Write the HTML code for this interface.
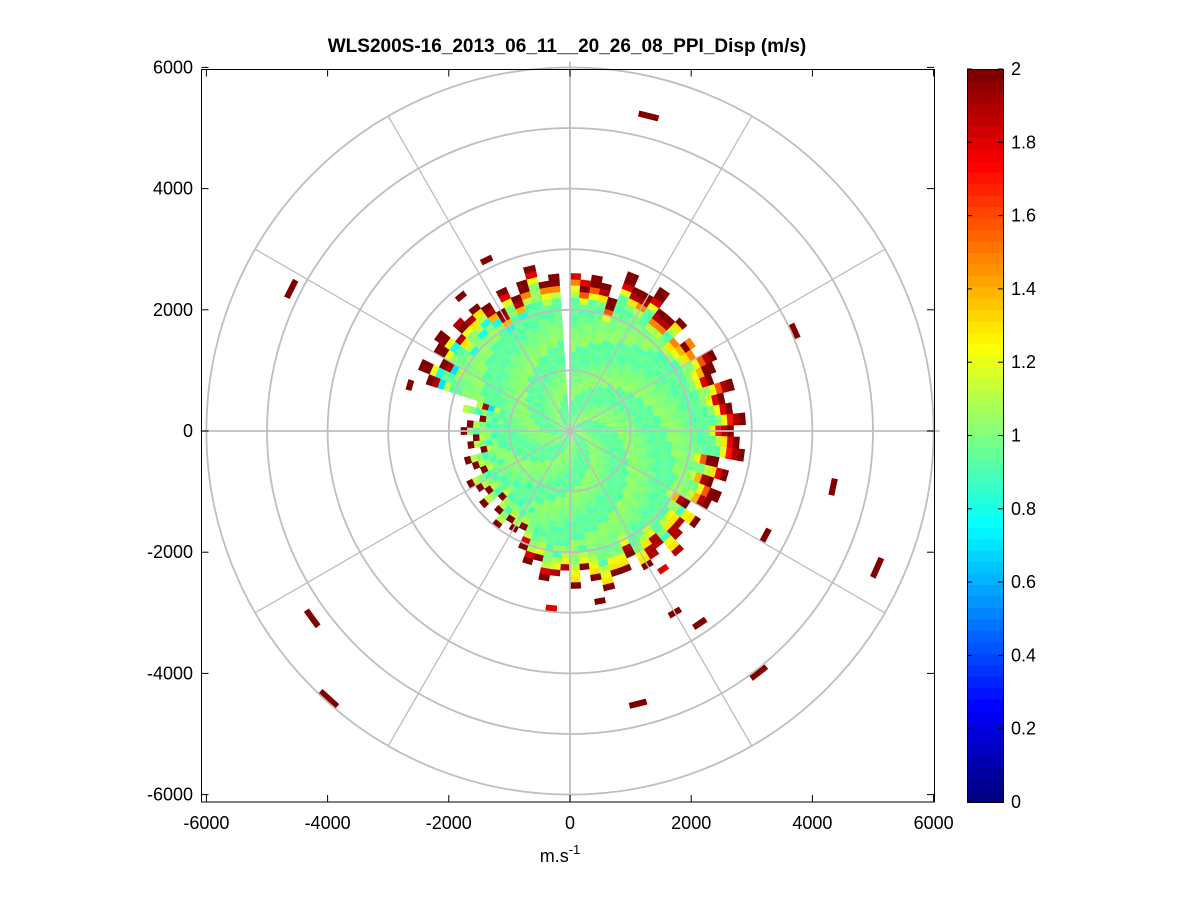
<!DOCTYPE html>
<html><head><meta charset="utf-8">
<style>
body{margin:0;background:#fff;}
svg{display:block;font-family:"Liberation Sans",Arial,sans-serif;}
</style></head>
<body>
<svg id="chart" width="1201" height="901" viewBox="0 0 1201 901" xmlns="http://www.w3.org/2000/svg">
<rect width="1201" height="901" fill="#fff"/>
<text x="567" y="52" font-size="19" font-weight="bold" text-anchor="middle">WLS200S-16_2013_06_11__20_26_08_PPI_Disp (m/s)</text>
<rect x="201" y="69" width="733" height="733" fill="#fff"/>
<g id="data"></g>
<g id="grid"></g>
<rect x="201.5" y="69.5" width="733" height="732.5" fill="none" stroke="#000" stroke-width="1"/>
<g id="axes"></g>
<text x="560" y="862" font-size="18" text-anchor="middle">m.s<tspan font-size="13" dy="-8">-1</tspan></text>
<g id="cbar"></g>
</svg>
<script>
// ---- data ----
const azBinsDeg = [0,10,20,30,40,50,60,70,80,90,100,110,120,130,140,150,160,170,180,190,200,210,220,230,240,250,260,270,280,290,300,310,320,330,340,350];
const edgeRadius = [2600,2500,2650,2600,2500,2450,2550,2650,2700,2750,2700,2600,2500,2450,2500,2500,2600,2450,2350,2300,2000,1900,1800,1750,1700,1680,1650,1650,1700,2500,2550,2550,2450,2500,2550,2600];
const edgeValues = [
[1.8,1.5,1.2,1.1],[2,2,1.6,1.2],[2,1.9,1.3,1.0],[2,2,1.8,1.2],[2,1.9,1.5,1.1],[1.5,1.3,1.1,0.9],
[2,2,1.4,1.2],[2,1.9,1.6,1.2],[2,1.8,1.2,1.0],[2,1.9,1.7,1.2],[2,1.8,1.3,1.1],[2,2,1.6,1.2],
[2,1.9,1.4,1.1],[1.9,1.3,1.2,0.9],[1.9,1.9,1.3,1.1],[2,1.9,1.2,1.1],[2,1.3,1.2,1.0],[2,1.3,1.2,1.1],
[1.9,1.2,1.1,0.9],[2,1.2,1.1,1.0],[2,1.8,1.1,1.0],[2,1.1,1.0,0.9],[2,1.1,1.0,0.9],[2,1.1,1.0,0.9],
[2,1.1,1.0,0.9],[2,1.1,1.0,0.9],[2,1.1,1.0,0.9],[2,1.1,1.0,0.9],[1.1,1.0,0.9,1.0],[2,1.9,0.7,1.1],
[2,2,1.2,0.8],[1.9,2,1.2,1.0],[2,1.3,1.1,0.8],[2,1.9,1.4,0.8],[2,1.8,1.2,1.0],[2,2,1.5,1.1]];
const cellEdgeOffset = [0,-1,1,0,-2,1,-1,0,2,-1,0,1,-2];
const innerTexture = [0.95,1.0,0.93,1.03,0.94,0.98,1.05,0.92,1.0,0.96,1.02,0.93,0.97,1.06,0.94,0.99,0.91];
const gapAz = [356];
const scatAz = [14,297,66,102,114,118,146,150,142,166,170,186,234,222,286,334,321,146];
const scatR  = [5360,5165,4060,4440,5550,3660,3830,3460,5060,4640,2850,2940,5260,5950,2750,3140,2860,2750];
const scatVal= [2,2,2,2,2,2,2,2,2,2,2,1.8,2,2,2,2,2,1.8];
const xTicks = [-6000,-4000,-2000,0,2000,4000,6000];
const yTicks = [6000,4000,2000,0,-2000,-4000,-6000];
const cbTicks = [0,0.2,0.4,0.6,0.8,1,1.2,1.4,1.6,1.8,2];
const ringRadii = [1000,2000,3000,4000,5000,6000];
const spokeAngles = [0,30,60,90,120,150,180,210,240,270,300,330];

// ---- scales ----
const CX=570, CY=431, S=0.0606;
const xs = v => CX + v*S;
const ys = v => CY - v*S;
const NS='http://www.w3.org/2000/svg';
function jet(v){
  let t=Math.max(0,Math.min(1,v/2)); t=Math.round(t*63)/63;
  const c=x=>Math.round(255*Math.max(0,Math.min(1,x)));
  return `rgb(${c(1.5-Math.abs(4*t-3))},${c(1.5-Math.abs(4*t-2))},${c(1.5-Math.abs(4*t-1))})`;
}
function pt(az,r){const a=az*Math.PI/180;return [xs(r*Math.sin(a)),ys(r*Math.cos(a))];}
function sector(a0,a1,r0,r1){
  const p1=pt(a0,r0),p2=pt(a0,r1),p3=pt(a1,r1),p4=pt(a1,r0);
  return `M${p1[0].toFixed(2)},${p1[1].toFixed(2)}L${p2[0].toFixed(2)},${p2[1].toFixed(2)}L${p3[0].toFixed(2)},${p3[1].toFixed(2)}L${p4[0].toFixed(2)},${p4[1].toFixed(2)}Z`;
}
const dataG=document.getElementById('data');
const AZSTEP=4, GATE=100;
for(let a=0;a<360;a+=AZSTEP){
  if(gapAz.includes(a)) continue;
  const ci=a/AZSTEP;
  const bin=Math.floor((a+AZSTEP/2)/10)%36;
  const er=edgeRadius[bin];
  const ng=Math.round(er/GATE)+cellEdgeOffset[ci%cellEdgeOffset.length];
  for(let g=0;g<ng;g++){
    const k=ng-1-g;
    const v = k<4 ? edgeValues[(bin+(k===0?0:(ci%2)))%36][k] : innerTexture[(g*7+ci*5)%innerTexture.length];
    const p=document.createElementNS(NS,'path');
    p.setAttribute('d',sector(a-0.05,a+AZSTEP+0.05,g*GATE,(g+1)*GATE+5));
    p.setAttribute('fill',jet(v));
    
    
    dataG.appendChild(p);
  }
}
for(let i=0;i<scatAz.length;i++){
  const p=document.createElementNS(NS,'path');
  p.setAttribute('d',sector(scatAz[i]-1.8,scatAz[i]+1.8,scatR[i]-50,scatR[i]+50));
  p.setAttribute('fill',jet(scatVal[i]));
  
  
  dataG.appendChild(p);
}
// grid
const gridG=document.getElementById('grid');
ringRadii.forEach(r=>{
  const c=document.createElementNS(NS,'circle');
  c.setAttribute('cx',CX);c.setAttribute('cy',CY);c.setAttribute('r',r*S);
  c.setAttribute('fill','none');c.setAttribute('stroke','#bebebe');c.setAttribute('stroke-width','1.8');
  
  
  gridG.appendChild(c);
});
spokeAngles.forEach(a=>{
  const l=document.createElementNS(NS,'line');
  const rr=(a%90===0)?6100:6000;
  const p=pt(a,rr);
  l.setAttribute('x1',CX);l.setAttribute('y1',CY);l.setAttribute('x2',p[0]);l.setAttribute('y2',Math.min(802,p[1]));
  l.setAttribute('stroke','#bebebe');l.setAttribute('stroke-width',(a%90===0)?'1.8':'1.3');
  
  
  gridG.appendChild(l);
});
// axes ticks
const axG=document.getElementById('axes');
function add(parent,tag,attrs,txt){const e=document.createElementNS(NS,tag);for(const k in attrs)e.setAttribute(k,attrs[k]);if(txt!==undefined)e.textContent=txt;parent.appendChild(e);return e;}
xTicks.forEach(v=>{
  const x=Math.min(934,Math.max(201.5,xs(v)));
  const t=add(axG,'line',{x1:x,y1:802,x2:x,y2:795,stroke:'#000'});
  
  
  add(axG,'line',{x1:x,y1:69.5,x2:x,y2:76.5,stroke:'#000'});
  const lb=add(axG,'text',{x:x,y:829,'font-size':18,'text-anchor':'middle'},String(v));
  
  
});
yTicks.forEach(v=>{
  const y=ys(v);
  const t=add(axG,'line',{x1:201.5,y1:y,x2:208.5,y2:y,stroke:'#000'});
  
  
  add(axG,'line',{x1:934,y1:y,x2:927,y2:y,stroke:'#000'});
  const lb=add(axG,'text',{x:193,y:y+6,'font-size':18,'text-anchor':'end'},String(v));
  
  
});
// colorbar
const cb=document.getElementById('cbar');
const CB0=802, CB1=69, CBX=967, CBW=36;
const cy=v=>CB0-(v/2)*(CB0-CB1);
for(let i=0;i<64;i++){
  const v0=i*2/64, v1=(i+1)*2/64;
  const r=add(cb,'rect',{x:CBX,y:cy(v1),width:CBW,height:cy(v0)-cy(v1)+0.6,fill:jet((v0+v1)/2)});
  
  
}
add(cb,'rect',{x:CBX+0.5,y:CB1+0.5,width:CBW,height:CB0-CB1,fill:'none',stroke:'#000'});
cbTicks.forEach(v=>{
  const y=cy(v);
  add(cb,'line',{x1:CBX,y1:y,x2:CBX+5,y2:y,stroke:'#000'});
  add(cb,'line',{x1:CBX+CBW,y1:y,x2:CBX+CBW-5,y2:y,stroke:'#000'});
  const lb=add(cb,'text',{x:CBX+CBW+8,y:y+6,'font-size':18},String(v));
  
  
});
</script>
</body></html>
